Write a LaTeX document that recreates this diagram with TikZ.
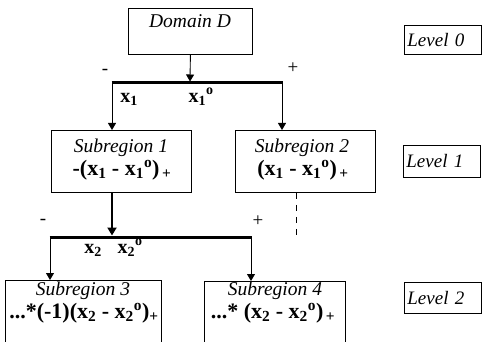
\documentclass[tikz,border=0pt]{standalone}
\usepackage{fontspec}
\setmainfont{Liberation Serif}
\usetikzlibrary{arrows.meta}
\begin{document}
\begin{tikzpicture}[x=1pt,y=-1pt,
  box/.style={draw,line width=0.8pt,inner sep=0pt,anchor=north west},
  ttl/.style={font=\fontsize{19.5}{22}\selectfont\itshape,inner sep=0pt},
  frm/.style={font=\fontsize{22}{24}\selectfont\bfseries,inner sep=0pt},
  lvl/.style={draw,line width=0.8pt,anchor=north west,inner xsep=3pt,inner ysep=0pt,
    text width=71pt,align=left,font=\fontsize{19}{22}\selectfont\itshape},
  arr/.style={-{Triangle[width=8pt,length=7pt]},line width=0.9pt},
  tarr/.style={-{Triangle[width=9pt,length=8pt]},line width=2.4pt},
  barline/.style={line width=3pt},
  lbl/.style={font=\fontsize{20}{22}\selectfont\bfseries,inner sep=0pt},
  sgn/.style={font=\fontsize{19}{22}\selectfont,inner sep=0pt}]
\useasboundingbox (0,0) rectangle (482,342);
\clip (0,0) rectangle (482,342);

% boxes
\node[box,minimum width=124pt,minimum height=46pt] (dom) at (128,8) {};
\node[ttl] (domt) at (190,21) {Domain D};

\node[box,minimum width=140pt,minimum height=62pt] (s1) at (51,130) {};
\node[ttl] (s1t) at (121,148) {Subregion 1};
\node[frm] (s1f) at (122,170) {-(x\textsubscript{1} - x\textsubscript{1}\textsuperscript{o})\textsubscript{\,+}};

\node[box,minimum width=140pt,minimum height=62pt] (s2) at (235,130) {};
\node[ttl] (s2t) at (302,148) {Subregion 2};
\node[frm] (s2f) at (303,170) {(x\textsubscript{1} - x\textsubscript{1}\textsuperscript{o})\textsubscript{\,+}};

\node[box,minimum width=156pt,minimum height=80pt] (s3) at (5,280) {};
\node[ttl] (s3t) at (83,291) {Subregion 3};
\node[frm] (s3f) at (84,313) {...*(-1)(x\textsubscript{2} - x\textsubscript{2}\textsuperscript{o})\textsubscript{+}};

\node[box,minimum width=141pt,minimum height=80pt] (s4) at (204,281) {};
\node[ttl] (s4t) at (275,291) {Subregion 4};
\node[frm] (s4f) at (273,313) {...* (x\textsubscript{2} - x\textsubscript{2}\textsuperscript{o})\textsubscript{\,+}};

% level boxes
\node[lvl,minimum height=29pt] (l0) at (404,25) {Level 0};
\node[lvl,minimum height=32pt] (l1) at (403,145) {Level 1};
\node[lvl,minimum height=31pt] (l2) at (404,282) {Level 2};

% first split
\coordinate (b1l) at (112,83);
\coordinate (b1r) at (282,83);
\coordinate (b1m) at (190,81.5);
\draw[barline] ([xshift=-0.5pt]b1l) -- ([xshift=0.5pt]b1r);
\draw[arr] (dom.south) -- (b1m);
\draw[arr] (b1l) -- (b1l |- s1.north);
\draw[arr] (b1r) -- (b1r |- s2.north);
\node[sgn] (m1) at (105,72) {-};
\node[sgn] (p1) at (293,68) {+};
\node[lbl] (x1a) at (129,99) {x\textsubscript{1}};
\node[lbl] (x1b) at (201,97) {x\textsubscript{1}\textsuperscript{o}};

% second split
\coordinate (b2l) at (50,237);
\coordinate (b2r) at (251,237);
\coordinate (b2m) at (112,235.5);
\draw[barline] ([xshift=-0.5pt]b2l) -- ([xshift=0.5pt]b2r);
\draw[tarr] (s1.south -| b2m) -- (b2m);
\draw[arr] (b2l) -- (b2l |- s3.north);
\draw[arr] (b2r) -- (b2r |- s4.north);
\node[sgn] (m2) at (43,222) {-};
\node[sgn] (p2) at (258,221) {+};
\node[lbl] (x2a) at (93,250) {x\textsubscript{2}};
\node[lbl] (x2b) at (130,248) {x\textsubscript{2}\textsuperscript{o}};

% dashed continuation
\coordinate (d1) at (296,238);
\draw[line width=1pt,dash pattern=on 6pt off 6pt] (s2.south -| d1) -- (d1);
\end{tikzpicture}
\end{document}
